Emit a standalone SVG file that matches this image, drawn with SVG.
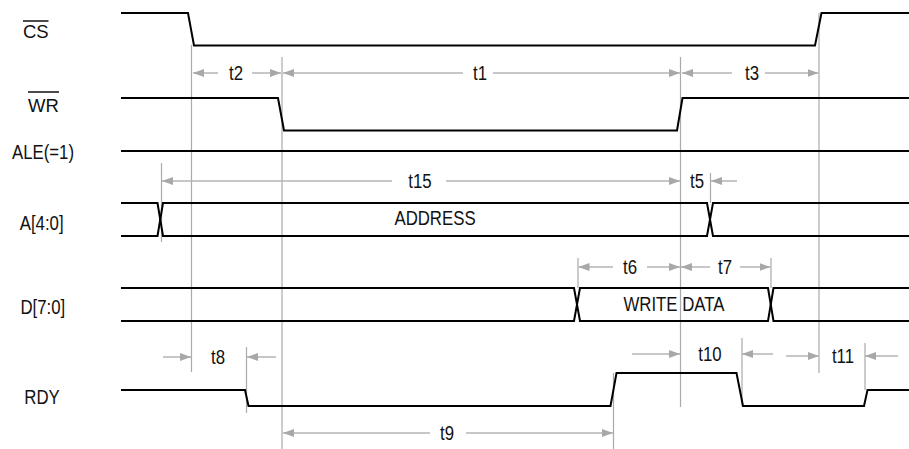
<svg xmlns="http://www.w3.org/2000/svg" width="909" height="449" viewBox="0 0 909 449">
<defs>
<marker id="ah" markerUnits="userSpaceOnUse" markerWidth="11" markerHeight="8" refX="11" refY="4" orient="auto">
<path d="M0,0 L11,4 L0,8 z" fill="#a8a8a8"/>
</marker>
<style>
.sig{fill:none;stroke:#000;stroke-width:2}
.guide{stroke:#aaa;stroke-width:1.2}
.dim{stroke:#b4b4b4;stroke-width:1.5;marker-end:url(#ah)}
text{font-family:"Liberation Sans",Arial,sans-serif;font-size:21px;fill:#111;text-anchor:middle}
.ov{font-size:18.5px}
.ovl{stroke:#111;stroke-width:1.5}
</style>
</defs>
<rect width="909" height="449" fill="#fff"/>
<g id="connectors">
<line class="guide" x1="161.5" y1="163" x2="161.5" y2="242"/>
<line class="guide" x1="191.5" y1="45" x2="191.5" y2="372"/>
<line class="guide" x1="282" y1="57" x2="282" y2="449"/>
<line class="guide" x1="680.5" y1="57" x2="680.5" y2="407"/>
<line class="guide" x1="819" y1="13" x2="819" y2="373"/>
<line class="guide" x1="710.5" y1="173" x2="710.5" y2="203"/>
<line class="guide" x1="578" y1="258" x2="578" y2="288"/>
<line class="guide" x1="771" y1="258" x2="771" y2="288"/>
<line class="guide" x1="246.5" y1="347" x2="246.5" y2="413"/>
<line class="guide" x1="613.5" y1="373" x2="613.5" y2="449"/>
<line class="guide" x1="742" y1="338" x2="742" y2="406"/>
<line class="guide" x1="865" y1="343" x2="865" y2="390"/>
<line class="dim" x1="218" y1="73" x2="193" y2="73"/>
<line class="dim" x1="252" y1="73" x2="281" y2="73"/>
<line class="dim" x1="463" y1="73" x2="283" y2="73"/>
<line class="dim" x1="493" y1="73" x2="680" y2="73"/>
<line class="dim" x1="732" y1="73" x2="682" y2="73"/>
<line class="dim" x1="765" y1="73" x2="818.5" y2="73"/>
<line class="dim" x1="392" y1="181" x2="162" y2="181"/>
<line class="dim" x1="446" y1="181" x2="680" y2="181"/>
<line class="dim" x1="737" y1="181" x2="711" y2="181"/>
<line class="dim" x1="613" y1="267" x2="578.5" y2="267"/>
<line class="dim" x1="647" y1="267" x2="680" y2="267"/>
<line class="dim" x1="710" y1="267" x2="681" y2="267"/>
<line class="dim" x1="740" y1="267" x2="770.5" y2="267"/>
<line class="dim" x1="163" y1="357" x2="191" y2="357"/>
<line class="dim" x1="276" y1="357" x2="247" y2="357"/>
<line class="dim" x1="632" y1="354" x2="680" y2="354"/>
<line class="dim" x1="773" y1="354" x2="742" y2="354"/>
<line class="dim" x1="786" y1="356" x2="819" y2="356"/>
<line class="dim" x1="898" y1="356" x2="865" y2="356"/>
<line class="dim" x1="430" y1="433" x2="283" y2="433"/>
<line class="dim" x1="466" y1="433" x2="613" y2="433"/>
<text transform="translate(236,80) scale(0.8,1)">t2</text>
<text transform="translate(480,80) scale(0.8,1)">t1</text>
<text transform="translate(752,80) scale(0.8,1)">t3</text>
<text transform="translate(420,188) scale(0.8,1)">t15</text>
<text transform="translate(697,188) scale(0.8,1)">t5</text>
<text transform="translate(630,274) scale(0.8,1)">t6</text>
<text transform="translate(725,274) scale(0.8,1)">t7</text>
<text transform="translate(218,364) scale(0.8,1)">t8</text>
<text transform="translate(710,361) scale(0.8,1)">t10</text>
<text transform="translate(843,363) scale(0.8,1)">t11</text>
<text transform="translate(447,440) scale(0.8,1)">t9</text>
</g>
<g id="sig-cs">
<text class="ov" x="35.8" y="38.3">CS</text>
<line class="ovl" x1="23" y1="21" x2="48.5" y2="21"/>
<path class="sig" d="M121,13 H188 L194,45.5 H815 L821.5,13 H909"/>
</g>
<g id="sig-wr">
<text class="ov" x="43.5" y="111.7">WR</text>
<line class="ovl" x1="28" y1="92" x2="59" y2="92"/>
<path class="sig" d="M121,98 H278 L284,130.5 H677 L682.5,98 H909"/>
</g>
<g id="sig-ale">
<text transform="translate(43,158.5) scale(0.8,1)">ALE(=1)</text>
<path class="sig" d="M121,151 H909"/>
</g>
<g id="sig-a">
<text transform="translate(41.7,230) scale(0.8,1)">A[4:0]</text>
<path class="sig" d="M121,203 H157.5 L163,236 H707 L713,203 H909"/>
<path class="sig" d="M121,236 H157.5 L163,203 H707 L713,236 H909"/>
<text transform="translate(435,225) scale(0.8,1)">ADDRESS</text>
</g>
<g id="sig-d">
<text transform="translate(42.8,314) scale(0.8,1)">D[7:0]</text>
<path class="sig" d="M121,288 H574 L580,321 H768 L773.5,288 H909"/>
<path class="sig" d="M121,321 H574 L580,288 H768 L773.5,321 H909"/>
<text transform="translate(674,311) scale(0.8,1)">WRITE DATA</text>
</g>
<g id="sig-rdy">
<text transform="translate(42,404) scale(0.8,1)">RDY</text>
<path class="sig" d="M121,390 H245 L248.5,406 H610.5 L616.5,373 H736.5 L743,406 H864 L867.5,390 H909"/>
</g>
</svg>
